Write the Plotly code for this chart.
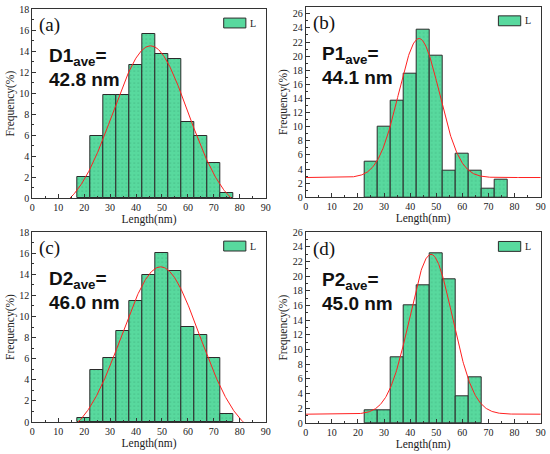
import numpy as np
import plotly.graph_objects as go

# histogram bins (bin centres, width 5 nm)
centers_a = [20, 25, 30, 35, 40, 45, 50, 55, 60, 65, 70, 75]
freq_a = [2.0, 5.9, 9.8, 9.8, 12.7, 15.6, 13.7, 13.2, 7.3, 5.9, 3.4, 0.5]

centers_b = [25, 30, 35, 40, 45, 50, 55, 60, 65, 70, 75]
freq_b = [5.0, 10.0, 13.7, 17.5, 23.7, 20.0, 3.7, 6.2, 3.7, 1.2, 2.5]

centers_c = [20, 25, 30, 35, 40, 45, 50, 55, 60, 65, 70, 75]
freq_c = [0.4, 4.9, 6.1, 8.6, 11.5, 13.9, 16.0, 14.3, 9.0, 8.2, 6.1, 0.8]

centers_d = [25, 30, 35, 40, 45, 50, 55, 60, 65]
freq_d = [1.8, 1.8, 8.9, 16.1, 18.8, 23.2, 19.6, 3.6, 6.2]

# gaussian fit parameters: y0 + A*exp(-(x-xc)^2/(2w^2))
fit_base = [-1.62, 2.8, -1.74, 1.2]
fit_amp = [16.12, 19.7, 16.44, 21.8]
fit_center = [45.6, 43.4, 49.5, 48.0]
fit_width = [14.5, 7.8, 15.0, 8.2]

panel_labels = ["(a)", "(b)", "(c)", "(d)"]
ave_names = ["D1", "P1", "D2", "P2"]
ave_values = ["42.8 nm", "44.1 nm", "46.0 nm", "45.0 nm"]
y_max = [18, 27, 18, 26]

W, H = 550, 454
# plot areas in pixels: (left, right, top, bottom)
boxes = [(32.3, 265.7, 9, 198.3), (305.7, 540.7, 6.7, 197.3),
         (32.3, 265.7, 232, 422), (305.7, 540.7, 232.3, 423)]

bar_color = "#58d99e"
data = [(centers_a, freq_a), (centers_b, freq_b), (centers_c, freq_c), (centers_d, freq_d)]

fig = go.Figure()
xfit = np.linspace(0, 90, 451)
serif = "Liberation Serif"
sans = "Liberation Sans"

for i, (cx, fy) in enumerate(data):
    n = "" if i == 0 else str(i + 1)
    xa, ya = "x" + n, "y" + n
    fig.add_trace(go.Bar(
        x=cx, y=fy, width=5, xaxis=xa, yaxis=ya, showlegend=False,
        marker=dict(color=bar_color, line=dict(color="#2b2b2b", width=1),
                    pattern=dict(shape=".", fgcolor="#3aa878", bgcolor=bar_color,
                                 size=4, solidity=0.15)),
    ))
    yfit = fit_base[i] + fit_amp[i] * np.exp(-(xfit - fit_center[i]) ** 2 / (2 * fit_width[i] ** 2))
    fig.add_trace(go.Scatter(x=xfit, y=yfit, mode="lines", xaxis=xa, yaxis=ya,
                             showlegend=False, line=dict(color="#ff2020", width=1)))

    l, r, t, b = boxes[i]
    axis_common = dict(showline=True, linecolor="#333", linewidth=1, mirror=True,
                       ticks="inside", ticklen=4, tickcolor="#333", showgrid=False,
                       zeroline=False, automargin=False, ticklabeloverflow="allow",
                       tickfont=dict(family=serif, size=10, color="#222"))
    fig.layout["xaxis" + n] = dict(
        axis_common, domain=[l / W, r / W], range=[0, 90], dtick=10, anchor=ya,
        minor=dict(dtick=5, ticks="inside", ticklen=2, tickcolor="#333"),
        title=dict(text="Length(nm)", font=dict(family=serif, size=11.5, color="#222"), standoff=2),
    )
    fig.layout["yaxis" + n] = dict(
        axis_common, domain=[1 - b / H, 1 - t / H], range=[0, y_max[i]], dtick=2, anchor=xa,
        minor=dict(dtick=1, ticks="inside", ticklen=2, tickcolor="#333"),
        title=dict(text="Frequency(%)", font=dict(family=serif, size=11.5, color="#222"), standoff=2),
    )

    dx, dy = xa + " domain", ya + " domain"
    fig.add_annotation(text=panel_labels[i], xref=dx, yref=dy, x=0.022, y=0.915,
                       xanchor="left", yanchor="middle", showarrow=False,
                       font=dict(family=serif, size=19, color="#111"))
    fig.add_annotation(text="<b>" + ave_names[i] + "<sub>ave</sub>=</b>", xref=dx, yref=dy,
                       x=0.062, y=0.745, xanchor="left", yanchor="middle", showarrow=False,
                       font=dict(family=sans, size=19, color="#111"))
    fig.add_annotation(text="<b>" + ave_values[i] + "</b>", xref=dx, yref=dy,
                       x=0.062, y=0.628, xanchor="left", yanchor="middle", showarrow=False,
                       font=dict(family=sans, size=19, color="#111"))
    # legend swatch
    fig.add_shape(type="rect", xref=dx, yref=dy, x0=0.82, x1=0.915, y0=0.90, y1=0.952,
                  fillcolor=bar_color, line=dict(color="#2b2b2b", width=1))
    fig.add_annotation(text="L", xref=dx, yref=dy, x=0.925, y=0.926, xanchor="left",
                       yanchor="middle", showarrow=False,
                       font=dict(family=serif, size=10, color="#222"))

fig.update_layout(width=W, height=H, margin=dict(l=0, r=0, t=0, b=0),
                  plot_bgcolor="white", paper_bgcolor="white", bargap=0)
# drop the page's default body margin so the figure sits at the window corner
fig.write_html("out.html", config={"displayModeBar": False},
               post_script="document.body.style.margin = '0px';")
